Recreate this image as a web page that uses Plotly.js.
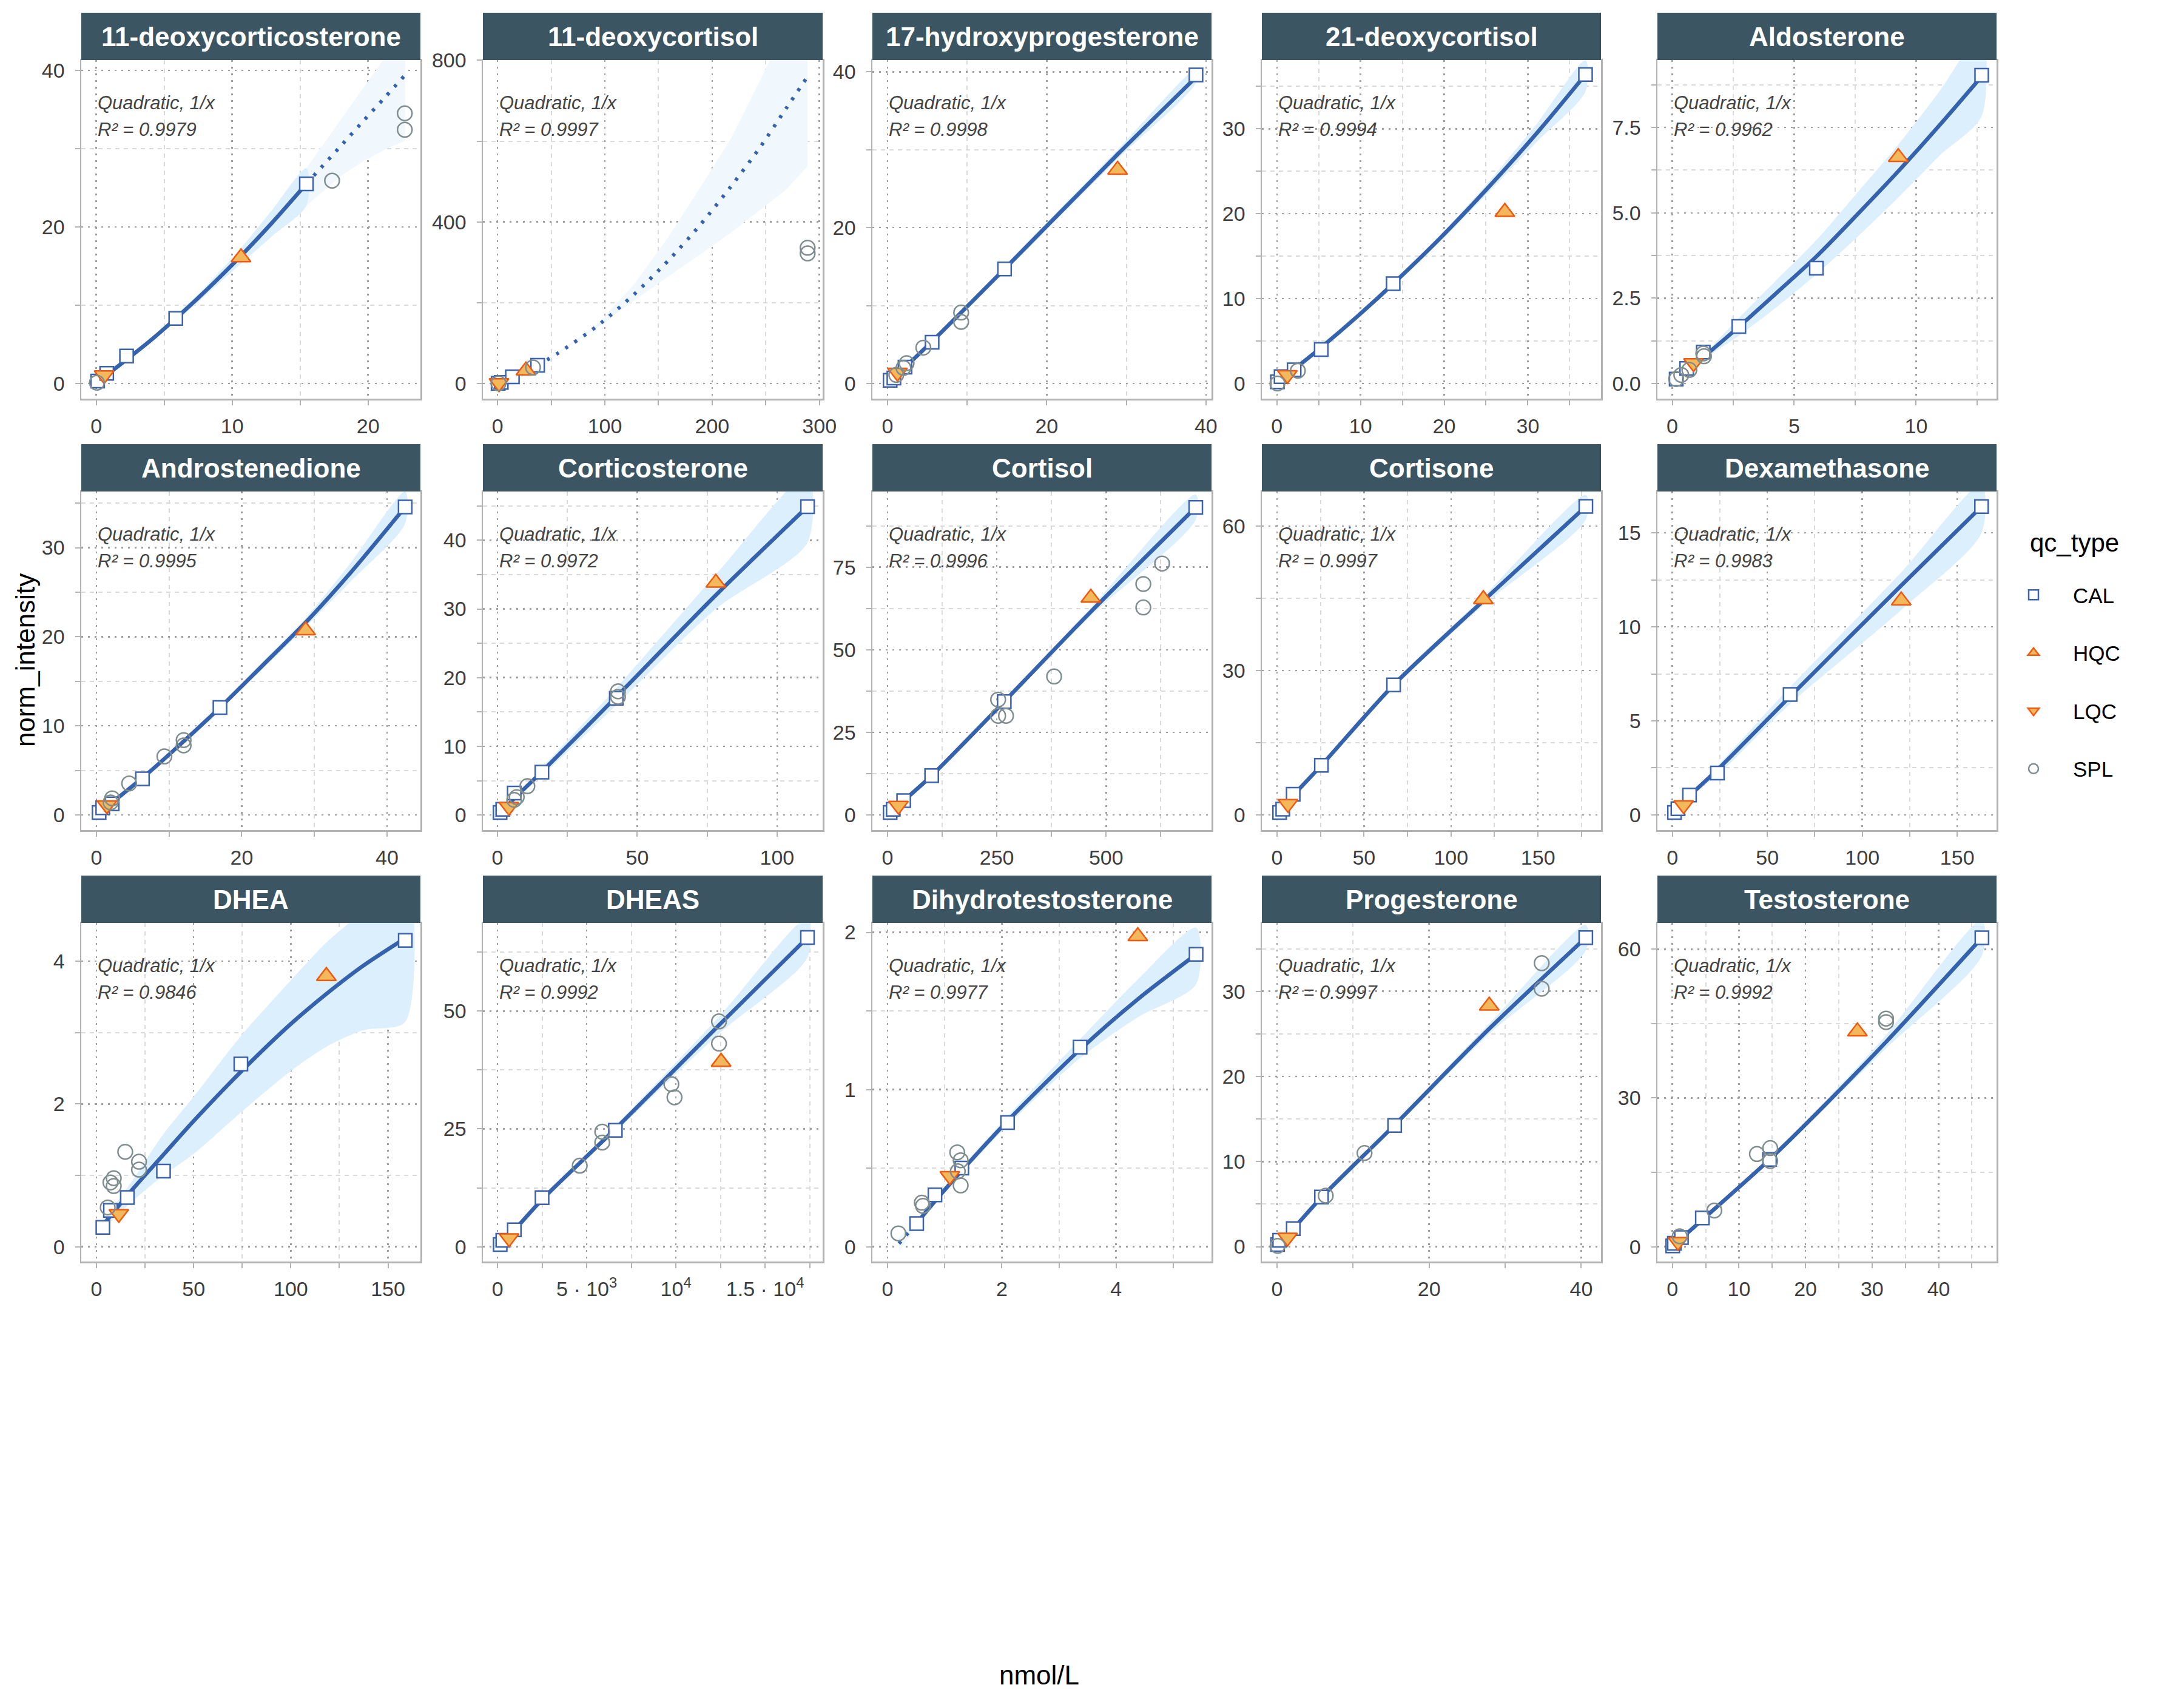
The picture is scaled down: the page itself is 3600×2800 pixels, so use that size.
<!DOCTYPE html>
<html>
<head>
<meta charset="utf-8">
<script src="https://cdn.plot.ly/plotly-3.0.1.min.js"></script>
<style>
  body { margin: 0; background: #ffffff; }
  #myDiv { width: 3600px; height: 2800px; }
</style>
</head>
<body>
<div id="myDiv"></div>
<script>
// panels, in facet order
const analytes = ['11-deoxycorticosterone', '11-deoxycortisol', '17-hydroxyprogesterone', '21-deoxycortisol', 'Aldosterone',
  'Androstenedione', 'Corticosterone', 'Cortisol', 'Cortisone', 'Dexamethasone',
  'DHEA', 'DHEAS', 'Dihydrotestosterone', 'Progesterone', 'Testosterone'];
const r2 = ['0.9979', '0.9997', '0.9998', '0.9994', '0.9962', '0.9995', '0.9972', '0.9996', '0.9997', '0.9983',
  '0.9846', '0.9992', '0.9977', '0.9997', '0.9992'];
const qcTypes = ['CAL', 'HQC', 'LQC', 'SPL'];

// calibrators
const calX = [[0.1, 0.77, 2.23, 5.85, 15.46], [0.5, 3.4, 13.8, 37.3], [0.33, 0.8, 2.2, 5.6, 14.7, 38.75],
  [0.06, 0.5, 2.06, 5.3, 13.9, 36.9], [0.16, 0.59, 1.27, 2.73, 5.91, 12.69], [0.36, 0.86, 2.16, 6.33, 17, 42.5],
  [0.94, 1.9, 6, 15.9, 42.5, 110.9], [6, 13, 37, 101, 267, 705], [1.5, 3.3, 9.3, 25.5, 67, 177.5],
  [1.1, 2.9, 9, 23.7, 62, 162.8], [3.3, 7.2, 15.9, 34.5, 74.3, 158.9], [147, 293, 939, 2495, 6604, 17376],
  [0.51, 0.83, 1.3, 2.1, 3.37, 5.4], [0.07, 0.34, 2.13, 5.84, 15.46, 40.6], [0.05, 0.3, 1.36, 4.5, 14.6, 46.5]];
const calY = [[0.3, 1.3, 3.5, 8.3, 25.5], [0.5, 2.8, 16.6, 45], [0.4, 0.7, 2.1, 5.3, 14.7, 39.6],
  [0.2, 0.8, 1.6, 4.0, 11.75, 36.4], [0.13, 0.44, 0.92, 1.67, 3.38, 9.03], [0.27, 0.8, 1.25, 4.05, 12.05, 34.56],
  [0.36, 0.83, 3.2, 6.23, 17, 44.9], [0.74, 1.7, 4.3, 11.9, 34.3, 93.1], [0.5, 1.2, 4.3, 10.3, 27, 64.1],
  [0.13, 0.33, 1.05, 2.22, 6.4, 16.4], [0.27, 0.51, 0.69, 1.06, 2.56, 4.29], [0.47, 1.36, 3.6, 10.4, 24.7, 65.6],
  [0.147, 0.33, 0.5, 0.79, 1.27, 1.86], [0.26, 0.75, 2.13, 5.83, 14.25, 36.3], [0.17, 0.7, 1.86, 5.8, 17.6, 62.3]];

// high and low QC
const hqcX = [10.65, 26.4, 28.9, 27.25, 9.27, 28.8, 78.1, 465, 118.6, 120.5, 118.3, 12533, 4.38, 27.9, 27.8];
const hqcY = [16.1, 32, 27.4, 20.2, 6.63, 20.7, 33.8, 65.7, 44.8, 11.4, 3.79, 39.2, 1.975, 28.3, 43.4];
const lqcX = [0.58, 1.3, 1.25, 1.25, 0.87, 1.44, 4.1, 25, 6.3, 5.9, 11.5, 646, 1.09, 1.37, 0.84];
const lqcY = [1.07, 1, 1.4, 1.0, 0.6, 1.1, 1.2, 2.8, 2.3, 0.52, 0.46, 1.83, 0.45, 1.08, 1];

// samples
const splX = [[0.05, 17.35, 22.7, 22.7], [0.8, 33, 289, 289], [1.1, 2.0, 2.4, 4.5, 9.25, 9.25], [0.06, 2.5],
  [0.16, 0.37, 0.7, 1.3, 1.27], [1.94, 2.16, 4.5, 9.35, 12, 12], [6, 6.9, 10.7, 43.1, 43.1],
  [253, 253, 271, 381, 585, 585, 628], [], [], [5.8, 7.2, 8.9, 8.9, 14.8, 21.9, 21.9],
  [4608, 5870, 5870, 9745, 9921, 12416, 12416], [0.19, 0.6, 0.62, 1.22, 1.28, 1.23, 1.28],
  [0.07, 6.4, 11.5, 34.8, 34.8], [1.1, 6.3, 12.7, 14.7, 14.7, 32.1, 32.1]];
const splY = [[0.1, 25.9, 34.5, 32.4], [0.5, 40, 336, 322], [1.1, 2.0, 2.6, 4.6, 9.1, 7.9], [0.0, 1.5],
  [0.13, 0.25, 0.4, 0.8, 0.88], [1.4, 1.86, 3.53, 6.57, 8.4, 7.8], [2.2, 2.6, 4.2, 18, 17.2],
  [34.9, 30, 30, 41.9, 69.9, 62.8, 76.1], [], [], [0.55, 0.9, 0.96, 0.85, 1.33, 1.19, 1.08],
  [17.2, 24.4, 22.1, 34.5, 31.7, 47.8, 43.1], [0.085, 0.28, 0.26, 0.6, 0.55, 0.48, 0.39],
  [0.1, 6, 11, 33.3, 30.3], [2.1, 7.3, 18.7, 19.9, 17.3, 46, 45.3]];

// fitted curve inside the calibrated range, with its band
const fitX = [[0.1, 2.23, 4, 5.85, 8, 10.65, 13, 15.46], [0.5, 13.8, 26.4, 37.3], [0.33, 5.6, 14.7, 28.9, 38.75],
  [0.06, 2.06, 5.3, 9.5, 13.9, 19.5, 25, 31, 36.9], [0.16, 1.27, 2.73, 4.3, 5.91, 7.6, 9.27, 11, 12.69],
  [0.36, 2.16, 6.33, 10.5, 17, 22.9, 28.8, 35, 42.5],
  [0.94, 6, 15.9, 42.5, 78.1, 110.9], [6, 37, 101, 267, 465, 705], [1.5, 9.3, 25.5, 67, 118.6, 177.5],
  [1.1, 9, 23.7, 62, 120.5, 162.8], [3.3, 17.8, 34.5, 50, 74.3, 100, 118.3, 137, 158.9],
  [147, 939, 2495, 6604, 12416, 17376], [0.51, 0.83, 1.3, 2.1, 3.37, 4.38, 5.4],
  [0.07, 2.13, 5.84, 15.46, 27.9, 40.6], [0.05, 1.36, 4.5, 14.6, 23, 32.1, 46.5]];
const fitY = [[0.2, 3.05, 5.5, 8.3, 11.75, 16.3, 20.65, 25.5], [0.3, 16, 31, 44.5], [0.3, 5.4, 14.7, 29.4, 39.3],
  [0.1, 1.67, 4.25, 7.8, 11.75, 17.1, 22.8, 29.4, 36.4], [0.12, 0.77, 1.66, 2.67, 3.72, 4.96, 6.22, 7.6, 9.0],
  [0.2, 1.4, 4.15, 7.15, 12.05, 16.8, 21.6, 27.2, 34.56],
  [0.3, 2.4, 6.3, 17.2, 32.0, 44.9], [0.7, 4.3, 11.9, 34.3, 61.5, 93.1], [0.5, 4.0, 10.3, 27, 44.5, 64.1],
  [0.1, 1.0, 2.4, 6.3, 12.2, 16.4], [0.3, 0.78, 1.29, 1.76, 2.45, 3.12, 3.54, 3.93, 4.32],
  [0.3, 3.5, 10.0, 25.0, 47.0, 65.6], [0.15, 0.29, 0.485, 0.8, 1.255, 1.575, 1.86],
  [0.1, 2.1, 5.8, 14.3, 25.6, 36.3], [0.2, 1.72, 5.45, 17.6, 28.7, 41.3, 62.3]];
const fitLo = [[0.0, 2.8, 5.2, 7.9, 11.2, 15.3, 18.9, 22.7], [-0.5, 15, 29.5, 42.5], [0.1, 5.1, 14.3, 28.8, 38.6],
  [0.0, 1.5, 4.0, 7.5, 11.4, 16.7, 22.2, 28.4, 34.4], [0.1, 0.7, 1.4, 2.25, 3.2, 4.3, 5.45, 6.7, 7.83],
  [0.1, 1.3, 3.95, 6.9, 11.8, 16.4, 21.1, 26.2, 32.7],
  [0.2, 2.2, 5.7, 16.0, 30.0, 39.7], [0.6, 4.1, 11.5, 33.6, 60.3, 89.4], [0.4, 3.9, 10.0, 26.4, 43.6, 61.4],
  [0.05, 0.95, 2.1, 5.9, 10.9, 15.0], [0.25, 0.62, 1.0, 1.3, 1.88, 2.46, 2.8, 3.03, 3.15],
  [0.2, 3.3, 9.6, 24.3, 45.2, 61.4], [0.13, 0.27, 0.465, 0.77, 1.2, 1.46, 1.67],
  [0.0, 2.0, 5.6, 14.0, 25.0, 34.8], [0.1, 1.62, 5.25, 17.1, 28.0, 40.0, 58.7]];
const fitHi = [[0.4, 3.3, 5.8, 8.7, 12.3, 17.3, 22.3, 27.5], [1, 17, 32.5, 46.5], [0.5, 5.7, 15.1, 30.0, 40.3],
  [0.2, 1.85, 4.5, 8.1, 12.1, 17.5, 23.4, 30.5, 38.1], [0.14, 0.84, 1.92, 3.05, 4.2, 5.6, 7.0, 8.6, 10.3],
  [0.3, 1.5, 4.35, 7.4, 12.35, 17.2, 22.1, 28.3, 36.3],
  [0.4, 2.6, 6.9, 18.5, 35.0, 49.5], [0.8, 4.5, 12.3, 35.0, 62.7, 97.0], [0.6, 4.1, 10.6, 27.6, 45.4, 66.5],
  [0.15, 1.05, 2.6, 6.8, 12.9, 17.6], [0.35, 0.9, 1.58, 2.1, 2.95, 3.73, 4.26, 4.7, 5.3],
  [0.4, 3.7, 10.4, 25.7, 48.8, 69.8], [0.17, 0.31, 0.505, 0.83, 1.32, 1.7, 2.03],
  [0.2, 2.2, 6.0, 14.6, 26.2, 37.8], [0.3, 1.82, 5.65, 18.1, 29.4, 42.7, 66]];

// extrapolated part of the curve (dotted), only where it exists
const extX = [[15.46, 18.08, 19.69, 21.27, 22.73], [37.3, 55.6, 92.7, 127, 159, 189, 217, 244, 269, 289], [], [], [],
  [], [], [], [], [], [], [], [0.2, 0.51], [], []];
const extY = [[25.5, 30.5, 33.6, 36.6, 39.4], [44.5, 74, 142, 220, 304, 393, 486, 582, 681, 760], [], [], [],
  [], [], [], [], [], [], [], [0.02, 0.15], [], []];
const extLo = [[22.7, 26.6, 28.4, 29.9, 31.0], [42.5, 72, 138, 205, 265, 320, 372, 428, 480, 538], [], [], [],
  [], [], [], [], [], [], [], [-0.03, 0.13], [], []];
const extHi = [[27.5, 33.9, 37.9, 41.7, 45.3], [46.5, 76, 146, 245, 362, 486, 604, 745, 880, 990], [], [], [],
  [], [], [], [], [], [], [], [0.06, 0.17], [], []];

// axes
const xRange = [[-1.1, 23.85], [-13.7, 303], [-1.9, 40.7], [-1.8, 38.75], [-0.61, 13.3], [-2.09, 44.6],
  [-5.2, 116.3], [-34.6, 741], [-8.7, 186.2], [-7.9, 170.7], [-7.8, 166.7], [-822, 18227],
  [-0.265, 5.67], [-2, 42.6], [-2.25, 48.7]];
const yRange = [[-1.94, 41.3], [-37.5, 800.5], [-1.95, 41.5], [-1.79, 38.1], [-0.444, 9.476], [-1.7, 36.3],
  [-2.2, 47.1], [-4.6, 97.9], [-3.15, 67.2], [-0.81, 17.2], [-0.207, 4.535], [-3.14, 68.7],
  [-0.094, 2.06], [-1.74, 38.03], [-2.98, 65.3]];
const xDtick = [10, 100, 20, 10, 5, 20, 50, 250, 50, 50, 50, 5000, 2, 20, 10];
const yDtick = [20, 400, 20, 10, 2.5, 10, 10, 25, 30, 5, 2, 25, 1, 10, 30];
const dheasTickVals = [0, 5000, 10000, 15000];
const dheasTickText = ['0', '5 \u00b7 10<sup>3</sup>', '10<sup>4</sup>', '1.5 \u00b7 10<sup>4</sup>'];

// page geometry (pixels)
const W = 3600, H = 2800;
const colPx = [[134, 693], [796, 1356], [1438, 1997], [2080, 2639], [2732, 3291]];
const rowPx = [[99, 657], [810, 1368], [1521, 2079]];
const stripH = 78;

const FONT = 'Liberation Sans, Arial, sans-serif';
const lineBlue = '#3562AC';
const bandBlue = '#DCEFFC';
const bandPale = '#F0F8FE';
const stripFill = '#3B5562';
const qcMarker = {
  CAL: {symbol: 'square', size: 22, color: '#ffffff', line: {color: '#3A62AD', width: 2.5}},
  HQC: {symbol: 'triangle-up', size: 28, color: '#F3B85B', line: {color: '#EE5B10', width: 2.5}},
  LQC: {symbol: 'triangle-down', size: 28, color: '#F3B85B', line: {color: '#EE5B10', width: 2.5}},
  SPL: {symbol: 'circle-open', size: 24, color: '#7F8D8F', line: {width: 2.5}}
};

let traces = [];
let shapes = [];
let annotations = [];
let layout = {};

for (let i = 0; i < analytes.length; i++) {
  const n = i + 1;
  const xa = n === 1 ? 'x' : 'x' + n;
  const ya = n === 1 ? 'y' : 'y' + n;

  if (extX[i].length) {
    traces.push({
      x: extX[i].concat(extX[i].slice().reverse()),
      y: extHi[i].concat(extLo[i].slice().reverse()),
      xaxis: xa, yaxis: ya, type: 'scatter', mode: 'lines', fill: 'toself',
      fillcolor: bandPale, line: {width: 0}, showlegend: false, hoverinfo: 'skip'
    });
  }
  traces.push({
    x: fitX[i].concat(fitX[i].slice().reverse()),
    y: fitHi[i].concat(fitLo[i].slice().reverse()),
    xaxis: xa, yaxis: ya, type: 'scatter', mode: 'lines', fill: 'toself',
    fillcolor: bandBlue, line: {width: 0, shape: 'spline', smoothing: 0.8}, showlegend: false, hoverinfo: 'skip'
  });
  if (extX[i].length) {
    traces.push({
      x: extX[i], y: extY[i], xaxis: xa, yaxis: ya, type: 'scatter', mode: 'lines',
      line: {color: lineBlue, width: 6, dash: '5px,13px', shape: 'spline', smoothing: 0.8},
      showlegend: false, hoverinfo: 'skip'
    });
  }
  traces.push({
    x: fitX[i], y: fitY[i], xaxis: xa, yaxis: ya, type: 'scatter', mode: 'lines',
    line: {color: lineBlue, width: 6.5, shape: 'spline', smoothing: 0.8},
    showlegend: false, hoverinfo: 'skip'
  });

  const pts = {
    CAL: [calX[i], calY[i]],
    HQC: [[hqcX[i]], [hqcY[i]]],
    LQC: [[lqcX[i]], [lqcY[i]]],
    SPL: [splX[i].length ? splX[i] : [null], splY[i].length ? splY[i] : [null]]
  };
  qcTypes.forEach((q) => {
    traces.push({
      x: pts[q][0], y: pts[q][1], xaxis: xa, yaxis: ya, type: 'scatter', mode: 'markers',
      name: q, legendgroup: q, showlegend: i === 0, marker: qcMarker[q]
    });
  });

  const c = colPx[i % 5];
  const r = rowPx[Math.floor(i / 5)];
  const axisStyle = {
    showgrid: true, gridcolor: '#9e9e9e', gridwidth: 2.5, griddash: '3px,8px',
    showline: true, linecolor: '#b3b3b3', linewidth: 2.5, mirror: true,
    ticks: 'outside', ticklen: 8, tickwidth: 2, tickcolor: '#b3b3b3',
    tickfont: {family: FONT, size: 34, color: '#3d3d3d'},
    zeroline: false, fixedrange: true
  };

  let xaxis = Object.assign({}, axisStyle, {
    domain: [c[0] / W, c[1] / W], anchor: ya, range: xRange[i],
    tickmode: 'linear', tick0: 0, dtick: xDtick[i], ticklabelstandoff: 6,
    minor: {dtick: xDtick[i] / 2, tick0: 0, ticks: 'outside', ticklen: 8, tickwidth: 2, tickcolor: '#b3b3b3',
      showgrid: true, gridcolor: '#dadada', gridwidth: 2, griddash: '7px,7px'}
  });
  if (analytes[i] === 'DHEAS') {
    xaxis.tickmode = 'array';
    xaxis.tickvals = dheasTickVals;
    xaxis.ticktext = dheasTickText;
    xaxis.minor.tickmode = 'array';
    xaxis.minor.tickvals = dheasTickVals.map(v => v + 2500);
  }
  let yaxis = Object.assign({}, axisStyle, {
    domain: [1 - r[1] / H, 1 - r[0] / H], anchor: xa, range: yRange[i],
    tickmode: 'linear', tick0: 0, dtick: yDtick[i], ticklabelstandoff: 10,
    tickformat: analytes[i] === 'Aldosterone' ? '.1f' : '',
    minor: {dtick: yDtick[i] / 2, tick0: 0, ticks: 'outside', ticklen: 8, tickwidth: 2, tickcolor: '#b3b3b3',
      showgrid: true, gridcolor: '#dadada', gridwidth: 2, griddash: '7px,7px'}
  });
  layout[n === 1 ? 'xaxis' : 'xaxis' + n] = xaxis;
  layout[n === 1 ? 'yaxis' : 'yaxis' + n] = yaxis;

  // facet strip
  shapes.push({
    type: 'rect', xref: 'paper', yref: 'paper',
    x0: c[0] / W, x1: c[1] / W, y0: 1 - r[0] / H, y1: 1 - (r[0] - stripH) / H,
    fillcolor: stripFill, line: {width: 0}, layer: 'above'
  });
  annotations.push({
    xref: 'paper', yref: 'paper', x: (c[0] + c[1]) / 2 / W, y: 1 - (r[0] - stripH / 2) / H,
    text: analytes[i], showarrow: false, xanchor: 'center', yanchor: 'middle',
    font: {family: FONT, size: 44, color: '#ffffff', weight: 'bold'}
  });
  annotations.push({
    xref: xa + ' domain', yref: ya + ' domain', x: 0.045, y: 1 - 70 / 558,
    text: 'Quadratic, 1/x', showarrow: false, xanchor: 'left', yanchor: 'middle',
    font: {family: FONT, size: 31, color: '#444444', style: 'italic'}
  });
  annotations.push({
    xref: xa + ' domain', yref: ya + ' domain', x: 0.045, y: 1 - 114 / 558,
    text: 'R\u00b2 = ' + r2[i], showarrow: false, xanchor: 'left', yanchor: 'middle',
    font: {family: FONT, size: 31, color: '#444444', style: 'italic'}
  });
}

// overall axis titles and legend title
annotations.push({
  xref: 'paper', yref: 'paper', x: 41 / W, y: 1 - 1088 / H, text: 'norm_intensity',
  showarrow: false, textangle: -90, xanchor: 'center', yanchor: 'middle',
  font: {family: FONT, size: 44, color: '#000000'}
});
annotations.push({
  xref: 'paper', yref: 'paper', x: 1713 / W, y: 1 - 2760 / H, text: 'nmol/L',
  showarrow: false, xanchor: 'center', yanchor: 'middle',
  font: {family: FONT, size: 44, color: '#000000'}
});
annotations.push({
  xref: 'paper', yref: 'paper', x: 3344 / W, y: 1 - 895 / H, text: 'qc_type',
  showarrow: false, xanchor: 'left', yanchor: 'middle',
  font: {family: FONT, size: 42, color: '#000000'}
});

layout = Object.assign(layout, {
  width: W,
  height: H,
  margin: {l: 0, r: 0, t: 0, b: 0},
  paper_bgcolor: '#ffffff',
  plot_bgcolor: '#ffffff',
  font: {family: FONT},
  showlegend: true,
  legend: {
    x: 3287 / W, y: 1 - 951 / H, xanchor: 'left', yanchor: 'top',
    font: {family: FONT, size: 35, color: '#000000'},
    tracegroupgap: 47, itemwidth: 120, bgcolor: 'rgba(0,0,0,0)', borderwidth: 0
  },
  shapes: shapes,
  annotations: annotations
});

Plotly.newPlot('myDiv', traces, layout, {staticPlot: true});
</script>
</body>
</html>
